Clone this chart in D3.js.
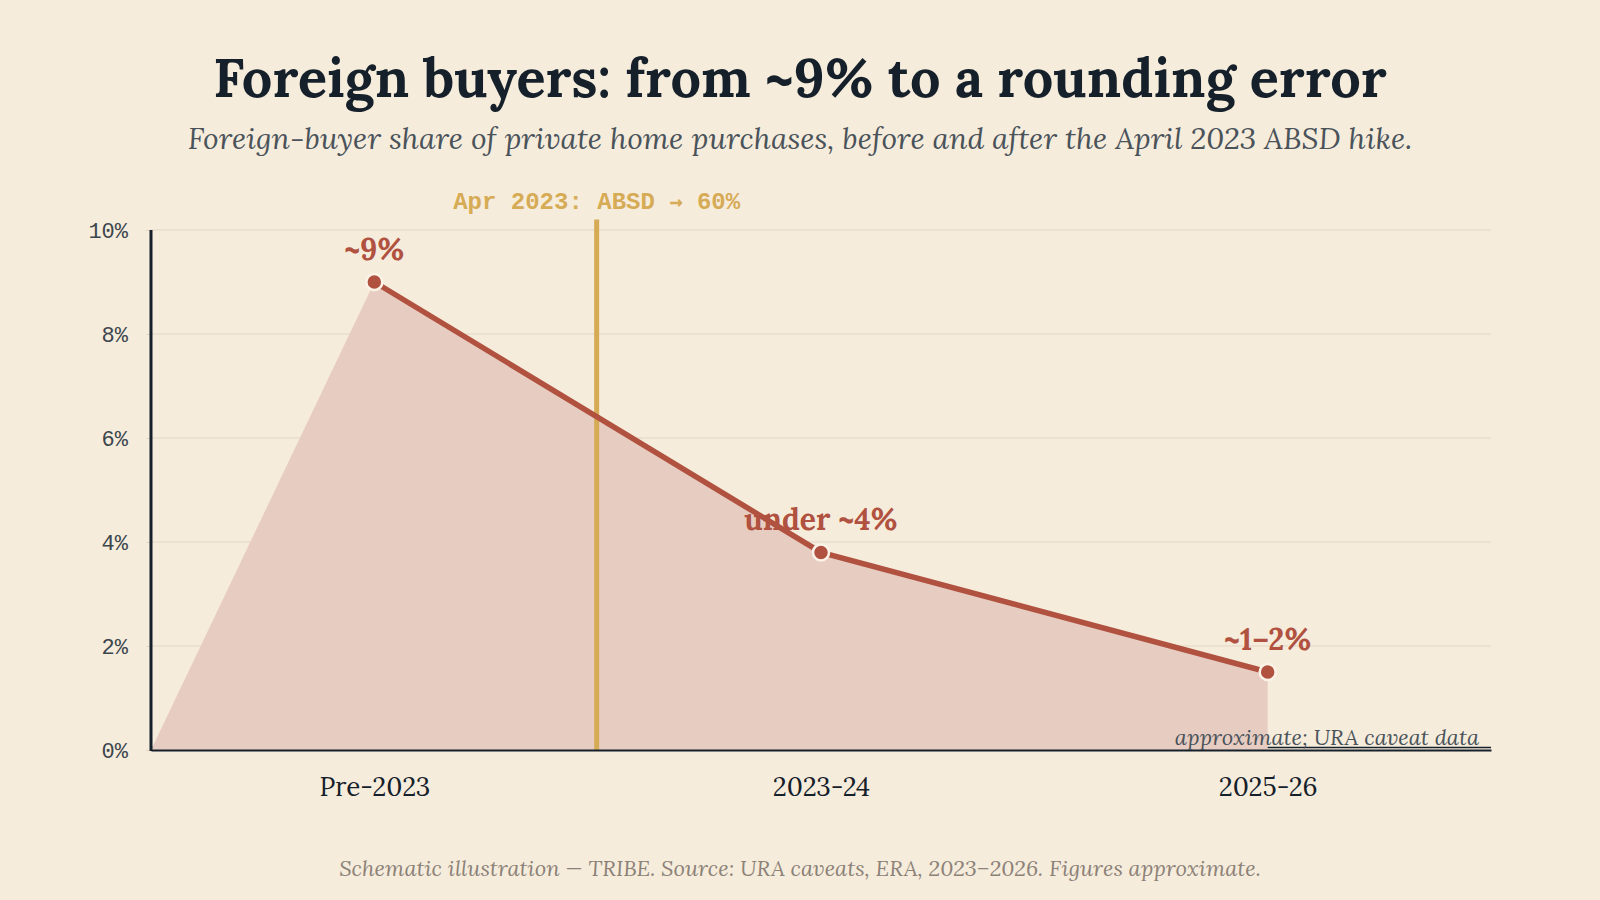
<!DOCTYPE html>
<html><head><meta charset="utf-8">
<script src="https://cdn.jsdelivr.net/npm/d3@7"></script>
<style>body{margin:0;background:#f6ecdc;}svg{display:block}</style>
</head><body><svg id="c" width="1600" height="900"></svg>
<script>
const categories = ["Pre-2023", "2023-24", "2025-26"];
const values = [9, 3.8, 1.5];
const pointLabels = ["~9%", "under ~4%", "~1–2%"];
const yTicks = [0, 2, 4, 6, 8, 10];
const eventLabel = "Apr 2023: ABSD → 60%";
const eventBetween = ["Pre-2023", "2023-24"];
const title = "Foreign buyers: from ~9% to a rounding error";
const subtitle = "Foreign-buyer share of private home purchases, before and after the April 2023 ABSD hike.";
const note = "approximate; URA caveat data";
const footer = "Schematic illustration — TRIBE. Source: URA caveats, ERA, 2023–2026. Figures approximate.";

const SERIF = "Lora, 'Liberation Serif', 'DejaVu Serif', serif";
const MONO = "'Liberation Mono', 'DejaVu Sans Mono', monospace";
const C = {bg:"#f6ecdc", ink:"#15202a", sub:"#4a535a", line:"#b0523f", area:"#e7ccc2", gold:"#d6ab55", grid:"#e3d7c4", foot:"#8c8278"};

const svg = d3.select("#c");
svg.append("rect").attr("width",1600).attr("height",900).attr("fill",C.bg);

const L=151, R=1491, T=230, B=750;
const x = d3.scalePoint().domain(categories).range([L,R]).padding(0.5);
const y = d3.scaleLinear().domain([0,10]).range([B,T]);

svg.append("text").attr("x",800).attr("y",97).attr("text-anchor","middle")
  .attr("font-family",SERIF).attr("font-weight",700).attr("font-size",54).attr("fill",C.ink).text(title);
svg.append("text").attr("x",800).attr("y",149).attr("text-anchor","middle")
  .attr("font-family",SERIF).attr("font-style","italic").attr("font-size",30).attr("fill",C.sub).text(subtitle);

// grid
svg.append("g").selectAll("line").data(yTicks).join("line")
  .attr("x1",L).attr("x2",R).attr("y1",d=>y(d)).attr("y2",d=>y(d))
  .attr("stroke",d=>d===0?C.ink:C.grid).attr("stroke-width",d=>d===0?1.5:1)
  .attr("transform",d=>d===0?"translate(0,-2.5)":null);

// area
const pts = categories.map((c,i)=>({x:x(c), v:values[i]}));
const areaPts = [{x:x.range()[0], v:0}, ...pts];
svg.append("path").datum(areaPts).attr("fill",C.area)
  .attr("d", d3.area().x(d=>d.x).y0(y(0)).y1(d=>y(d.v)));

// event line
const ex = (x(eventBetween[0])+x(eventBetween[1]))/2 - 1;
svg.append("line").attr("x1",ex).attr("x2",ex).attr("y1",y(10.2)).attr("y2",y(0))
  .attr("stroke",C.gold).attr("stroke-width",5);
const evParts = eventLabel.split("→");
const ev = svg.append("text").attr("x",ex).attr("y",209).attr("text-anchor","middle")
  .attr("font-family",MONO).attr("font-weight",700).attr("font-size",24).attr("fill",C.gold);
ev.append("tspan").text(evParts[0]);
ev.append("tspan").attr("font-family","'DejaVu Sans Mono', monospace").attr("font-size",22).text("→");
ev.append("tspan").text(evParts[1]);

// line
svg.append("path").datum(pts).attr("fill","none").attr("stroke",C.line).attr("stroke-width",5.5)
  .attr("d", d3.line().x(d=>d.x).y(d=>y(d.v)));
svg.append("g").selectAll("circle").data(pts).join("circle")
  .attr("cx",d=>d.x).attr("cy",d=>y(d.v)).attr("r",8).attr("fill",C.line)
  .attr("stroke","#fbf3e8").attr("stroke-width",2.5);
svg.append("g").selectAll("text").data(pts).join("text")
  .attr("x",d=>d.x).attr("y",d=>y(d.v)-22).attr("text-anchor","middle")
  .attr("font-family",SERIF).attr("font-weight",700).attr("font-size",30).attr("fill",C.line)
  .text((d,i)=>pointLabels[i]);

// axes
const ya = svg.append("g").attr("transform",`translate(${L},0)`)
  .call(d3.axisLeft(y).tickValues(yTicks).tickFormat(d=>d+"%").tickSize(5).tickPadding(18));
ya.select(".domain").remove();
ya.selectAll(".tick line").attr("stroke",C.grid);
ya.selectAll(".tick text").attr("font-family",MONO).attr("font-size",22).attr("fill","#3c464d");
svg.append("line").attr("x1",L).attr("x2",L).attr("y1",T).attr("y2",B+1).attr("stroke",C.ink).attr("stroke-width",3);

const xa = svg.append("g").attr("transform",`translate(0,${B})`)
  .call(d3.axisBottom(x).tickSize(0).tickPadding(28));
xa.select(".domain").attr("stroke",C.ink).attr("stroke-width",2);
xa.selectAll(".tick text").attr("font-family",SERIF).attr("font-size",26).attr("fill",C.ink);

svg.append("text").attr("x",R-12).attr("y",745).attr("text-anchor","end")
  .attr("font-family",SERIF).attr("font-style","italic").attr("font-size",22).attr("fill",C.sub).text(note);

svg.append("text").attr("x",800).attr("y",876).attr("text-anchor","middle")
  .attr("font-family",SERIF).attr("font-style","italic").attr("font-size",22).attr("fill",C.foot).text(footer);
</script></body></html>
